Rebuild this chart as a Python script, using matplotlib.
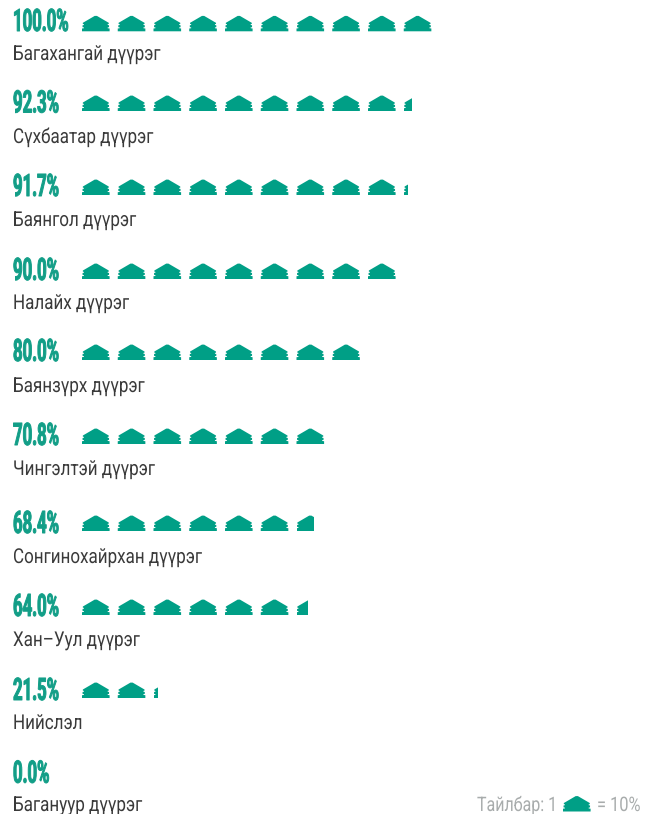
import matplotlib
matplotlib.use("Agg")
import matplotlib.pyplot as plt
from matplotlib.patches import PathPatch, Rectangle
from matplotlib.path import Path
from matplotlib.patheffects import AbstractPathEffect
from matplotlib.transforms import Affine2D

percent_labels = ["100.0%", "92.3%", "91.7%", "90.0%", "80.0%", "70.8%", "68.4%", "64.0%", "21.5%", "0.0%"]
districts = ["Багахангай дүүрэг", "Сүхбаатар дүүрэг", "Баянгол дүүрэг", "Налайх дүүрэг", "Баянзүрх дүүрэг",
             "Чингэлтэй дүүрэг", "Сонгинохайрхан дүүрэг", "Хан–Уул дүүрэг", "Нийслэл", "Багануур дүүрэг"]
icon_units = [10, 9.3, 9.17, 9, 8, 7, 6.65, 6.4, 2.15, 0]
icon_bottoms = [31.3, 111, 195, 279, 360, 444, 531, 615, 698, 780]
percent_baselines = [31, 112.5, 196, 280, 361, 445, 533, 616, 700, 782.7]
label_baselines = [60, 143, 226, 309, 392, 475, 563, 646, 729, 811]

TEAL = "#009f86"
FONT = ["Roboto", "DejaVu Sans"]
W, H = 660, 814
ICON_W, ICON_H, PITCH, X0 = 27.6, 15.4, 35.75, 82


class Squeeze(AbstractPathEffect):
    def __init__(self, x0, sx, stroke=0):
        super().__init__()
        self.x0, self.sx, self.stroke = x0, sx, stroke

    def draw_path(self, renderer, gc, tpath, affine, rgbFace=None):
        t = affine + Affine2D().translate(-self.x0, 0).scale(self.sx, 1).translate(self.x0, 0)
        if self.stroke:
            gc0 = renderer.new_gc()
            gc0.copy_properties(gc)
            gc0.set_linewidth(self.stroke)
            gc0.set_foreground(rgbFace)
            renderer.draw_path(gc0, tpath, t, rgbFace)
            gc0.restore()
        else:
            renderer.draw_path(gc, tpath, t, rgbFace)


def ger_path(x, bottom, w=ICON_W, h=ICON_H):
    right = [(0.54, 1.0), (0.97, 0.55), (0.97, 0.48), (0.93, 0.46), (0.93, 0.41), (0.98, 0.39), (0.98, 0.27),
             (0.93, 0.25), (0.93, 0.20), (1.0, 0.18), (1.0, 0.0)]
    left = [(1 - a, b) for a, b in reversed(right)]
    pts = [(x + a * w, bottom - b * h) for a, b in right + left]
    return Path(pts + [pts[0]], closed=True)


fig = plt.figure(figsize=(W / 100, H / 100), dpi=100)
ax = fig.add_axes([0, 0, 1, 1])
ax.set_xlim(0, W)
ax.set_ylim(H, 0)
ax.axis("off")
PX = 72 / 100

for pct, name, units, bottom, pbase, base in zip(percent_labels, districts, icon_units, icon_bottoms,
                                                 percent_baselines, label_baselines):
    tx = ax.text(13, pbase, pct, family=FONT, weight="bold", fontsize=31 * PX, color="#129e87",
                 va="baseline", ha="left")
    tx.set_path_effects([Squeeze(13, 0.54, stroke=0.7)])
    lb = ax.text(13, base, name, family=FONT, fontsize=20.5 * PX, color="#3a3a3a",
                 va="baseline", ha="left")
    lb.set_path_effects([Squeeze(13, 0.83)])
    i = 0
    while i < units:
        frac = min(1, units - i)
        x = X0 + i * PITCH
        p = PathPatch(ger_path(x, bottom), fc=TEAL, ec="none", lw=0)
        ax.add_patch(p)
        if frac < 1:
            clip = Rectangle((x, bottom - ICON_H - 1), frac * ICON_W, ICON_H + 2, transform=ax.transData)
            p.set_clip_path(clip)
        i += 1

GREY = "#a8acac"
t1 = ax.text(477, 811, "Тайлбар: 1", family=FONT, fontsize=20 * PX, color=GREY, va="baseline", ha="left")
t1.set_path_effects([Squeeze(477, 0.8)])
ax.add_patch(PathPatch(ger_path(563, 811.5), fc=TEAL, ec="none", lw=0))
t2 = ax.text(597, 811, "= 10%", family=FONT, fontsize=20 * PX, color=GREY, va="baseline", ha="left")
t2.set_path_effects([Squeeze(597, 0.82)])
ax.axvline(659.5, color="#eef2f6", lw=1 * PX)
fig.savefig("out.png", dpi=100, facecolor="white")
